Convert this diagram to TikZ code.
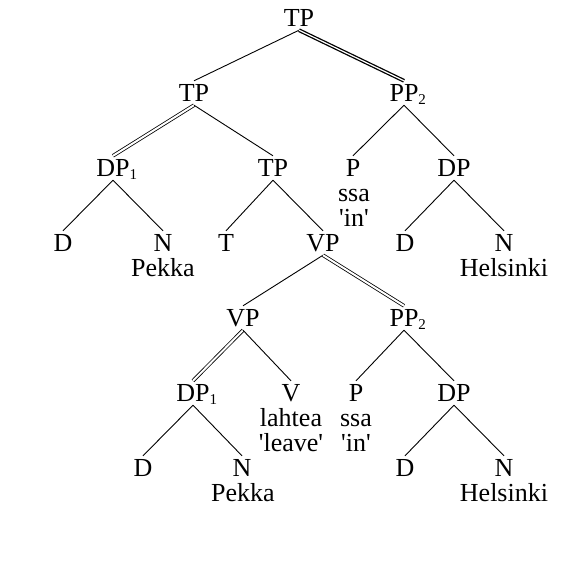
\documentclass[tikz,border=0pt]{standalone}
\usepackage{fontspec}
\setmainfont{Liberation Serif}
\tikzset{
  cat/.style={
    inner sep=0pt,
    anchor=base,
    text height=20pt,
    text depth=4pt,
    font=\fontsize{26}{26}\selectfont
  },
  word/.style={
    inner sep=0pt,
    anchor=base,
    font=\fontsize{26}{26}\selectfont
  },
  branch/.style={line width=0.9pt},
  copyline/.style={line width=0.8pt, double, double distance=2pt},
  movedline/.style={line width=1.3pt, double, double distance=1.2pt}
}
\newcommand{\catidx}[1]{\rlap{\raisebox{-3pt}{\fontsize{15}{15}\selectfont #1}}}
\newcommand{\quoted}[1]{\textquotesingle#1\textquotesingle}

\begin{document}
\begin{tikzpicture}[x=1pt, y=-1pt]
  \useasboundingbox (0,0) rectangle (561,570);
  \node[cat] (tp0) at (299,26) {TP};
  \node[cat] (tp1) at (194,101) {TP};
  \node[cat] (ppA) at (404,101) {PP\catidx{2}};
  \node[cat] (dpA) at (113,176) {DP\catidx{1}};
  \node[cat] (tp2) at (273,176) {TP};
  \node[cat] (pA) at (353,176) {P};
  \node[cat] (dpB) at (454,176) {DP};
  \node[cat] (dA) at (63,251) {D};
  \node[cat] (nA) at (163,251) {N};
  \node[cat] (t) at (226,251) {T};
  \node[cat] (vp0) at (323,251) {VP};
  \node[cat] (dB) at (405,251) {D};
  \node[cat] (nB) at (504,251) {N};
  \node[cat] (vp1) at (243,326) {VP};
  \node[cat] (ppB) at (404,326) {PP\catidx{2}};
  \node[cat] (dpC) at (193,401) {DP\catidx{1}};
  \node[cat] (v) at (291,401) {V};
  \node[cat] (pB) at (356,401) {P};
  \node[cat] (dpD) at (454,401) {DP};
  \node[cat] (dC) at (143,476) {D};
  \node[cat] (nC) at (242,476) {N};
  \node[cat] (dD) at (405,476) {D};
  \node[cat] (nD) at (504,476) {N};
  \node[word] (pekkaA) at (163,276) {Pekka};
  \node[word] (ssaA) at (354,201) {ssa};
  \node[word] (inA) at (354,226) {\quoted{in}};
  \node[word] (helsinkiA) at (504,276) {Helsinki};
  \node[word] (lahtea) at (291,426) {lahtea};
  \node[word] (leave) at (291,451) {\quoted{leave}};
  \node[word] (ssaB) at (356,426) {ssa};
  \node[word] (inB) at (356,451) {\quoted{in}};
  \node[word] (pekkaB) at (243,501) {Pekka};
  \node[word] (helsinkiB) at (504,501) {Helsinki};
  \draw[branch] (tp0.south) -- (tp1.north);
  \draw[movedline] (tp0.south) -- (ppA.north);
  \draw[copyline] (tp1.south) -- (dpA.north);
  \draw[branch] (tp1.south) -- (tp2.north);
  \draw[branch] (ppA.south) -- (pA.north);
  \draw[branch] (ppA.south) -- (dpB.north);
  \draw[branch] (dpA.south) -- (dA.north);
  \draw[branch] (dpA.south) -- (nA.north);
  \draw[branch] (tp2.south) -- (t.north);
  \draw[branch] (tp2.south) -- (vp0.north);
  \draw[branch] (dpB.south) -- (dB.north);
  \draw[branch] (dpB.south) -- (nB.north);
  \draw[branch] (vp0.south) -- (vp1.north);
  \draw[copyline] (vp0.south) -- (ppB.north);
  \draw[copyline] (vp1.south) -- (dpC.north);
  \draw[branch] (vp1.south) -- (v.north);
  \draw[branch] (ppB.south) -- (pB.north);
  \draw[branch] (ppB.south) -- (dpD.north);
  \draw[branch] (dpC.south) -- (dC.north);
  \draw[branch] (dpC.south) -- (nC.north);
  \draw[branch] (dpD.south) -- (dD.north);
  \draw[branch] (dpD.south) -- (nD.north);
\end{tikzpicture}
\end{document}
